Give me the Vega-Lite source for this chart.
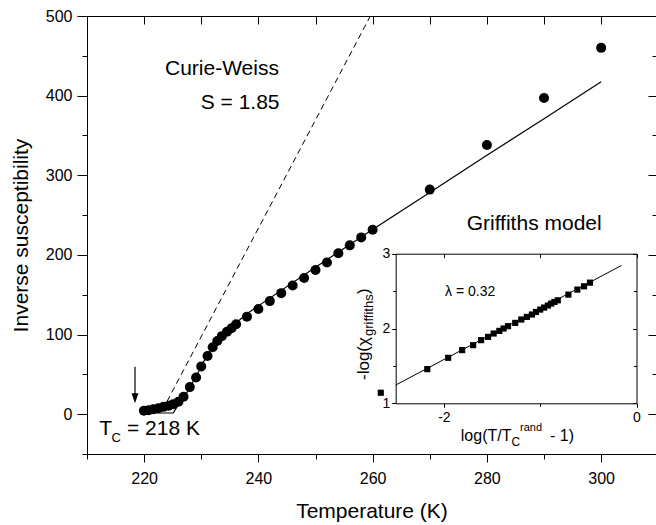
{
  "$schema": "https://vega.github.io/schema/vega-lite/v6.json",
  "width": 569,
  "height": 438,
  "autosize": {"type": "none"},
  "padding": {"left": 87, "top": 16, "right": 0, "bottom": 71},
  "background": "white",
  "config": {
    "view": {"stroke": null},
    "font": "Liberation Sans",
    "text": {"font": "Liberation Sans", "color": "black"},
    "axis": {
      "labelFont": "Liberation Sans", "titleFont": "Liberation Sans",
      "labelColor": "black", "titleColor": "black", "domainColor": "black", "tickColor": "black",
      "grid": false, "titleFontWeight": "normal", "labelFlush": false, "labelOverlap": false,
      "labelBound": false, "domainWidth": 1, "tickWidth": 1
    }
  },
  "datasets": {
    "main": [
      {"T": 219.96, "v": 4.2}, {"T": 220.8, "v": 5.0}, {"T": 221.6, "v": 6.3}, {"T": 222.5, "v": 7.5},
      {"T": 223.4, "v": 9.2}, {"T": 224.3, "v": 10.5}, {"T": 225.1, "v": 12.6}, {"T": 226.0, "v": 15.5},
      {"T": 226.9, "v": 21.8}, {"T": 228.0, "v": 34}, {"T": 229.1, "v": 46}, {"T": 230.0, "v": 60},
      {"T": 231.1, "v": 73}, {"T": 232.0, "v": 84}, {"T": 232.8, "v": 92}, {"T": 233.6, "v": 98},
      {"T": 234.5, "v": 103.5}, {"T": 235.3, "v": 108}, {"T": 236.1, "v": 113}, {"T": 238, "v": 122.5},
      {"T": 240, "v": 132}, {"T": 242, "v": 142}, {"T": 244, "v": 152}, {"T": 246, "v": 161.5},
      {"T": 248, "v": 171}, {"T": 250, "v": 181}, {"T": 252, "v": 190.5}, {"T": 254, "v": 202},
      {"T": 256, "v": 212}, {"T": 258, "v": 222}, {"T": 260, "v": 231.5}, {"T": 270, "v": 282},
      {"T": 280, "v": 338}, {"T": 290, "v": 397}, {"T": 300, "v": 460}
    ],
    "fit": [
      {"T": 221.9, "v": 1.5}, {"T": 225.1, "v": 1.5}, {"T": 225.7, "v": 8.5}, {"T": 226.6, "v": 17},
      {"T": 227.5, "v": 27}, {"T": 228.5, "v": 40}, {"T": 229.5, "v": 53}, {"T": 230.5, "v": 67},
      {"T": 231.5, "v": 79}, {"T": 232.5, "v": 89}, {"T": 233.5, "v": 97.5}, {"T": 234.5, "v": 105},
      {"T": 235.5, "v": 111}, {"T": 236.5, "v": 117}, {"T": 238, "v": 126}, {"T": 240, "v": 136},
      {"T": 250, "v": 184.5}, {"T": 260, "v": 232}, {"T": 270, "v": 278.5}, {"T": 280, "v": 325},
      {"T": 290, "v": 371}, {"T": 300, "v": 417.5}
    ],
    "cw": [{"T": 223.2, "v": 5}, {"T": 259.6, "v": 500}],
    "lab21": [
      {"T": 223.65, "v": 425.9, "t": "Curie-Weiss"},
      {"T": 229.9, "v": 382.8, "t": "S = 1.85"},
      {"T": 276.46, "v": 231.3, "t": "Griffiths model"},
      {"T": 212.15, "v": -26.1, "t": "T"},
      {"T": 217.0, "v": -26.1, "t": "= 218 K"}
    ],
    "inset": [
      {"lx": -2.655, "ly": 1.141}, {"lx": -2.172, "ly": 1.457}, {"lx": -1.955, "ly": 1.608},
      {"lx": -1.81, "ly": 1.711}, {"lx": -1.696, "ly": 1.777}, {"lx": -1.613, "ly": 1.844},
      {"lx": -1.541, "ly": 1.888}, {"lx": -1.483, "ly": 1.933}, {"lx": -1.424, "ly": 1.968},
      {"lx": -1.38, "ly": 2.0}, {"lx": -1.334, "ly": 2.031}, {"lx": -1.259, "ly": 2.075},
      {"lx": -1.196, "ly": 2.12}, {"lx": -1.138, "ly": 2.155}, {"lx": -1.086, "ly": 2.187},
      {"lx": -1.044, "ly": 2.221}, {"lx": -1.0, "ly": 2.253}, {"lx": -0.959, "ly": 2.28},
      {"lx": -0.92, "ly": 2.307}, {"lx": -0.886, "ly": 2.333}, {"lx": -0.852, "ly": 2.355},
      {"lx": -0.817, "ly": 2.377}, {"lx": -0.707, "ly": 2.453}, {"lx": -0.614, "ly": 2.52},
      {"lx": -0.545, "ly": 2.564}, {"lx": -0.483, "ly": 2.613}
    ],
    "insetfit": [{"lx": -2.5, "ly": 1.244}, {"lx": -0.155, "ly": 2.843}]
  },
  "layer": [
    {
      "data": {"name": "main"},
      "mark": {"type": "point", "shape": "circle", "filled": true, "color": "black", "size": 100, "opacity": 1},
      "encoding": {
        "x": {"field": "T", "type": "quantitative", "scale": {"domain": [210, 309.6], "nice": false, "zero": false},
          "axis": {"orient": "bottom", "values": [220, 240, 260, 280, 300], "tickSize": 8,
            "labelFontSize": 16, "labelPadding": 8, "title": "Temperature (K)", "titleFontSize": 21, "titlePadding": 14}},
        "y": {"field": "v", "type": "quantitative", "scale": {"domain": [-50, 500], "nice": false, "zero": false},
          "axis": {"orient": "left", "values": [0, 100, 200, 300, 400, 500], "tickSize": 10,
            "labelFontSize": 16, "labelPadding": 5, "title": "Inverse susceptibility", "titleFontSize": 21, "titlePadding": 14}}
      }
    },
    {
      "data": {"name": "fit"},
      "mark": {"type": "line", "color": "black", "strokeWidth": 1.2},
      "encoding": {
        "x": {"field": "T", "type": "quantitative", "scale": {"domain": [210, 309.6], "nice": false, "zero": false},
          "axis": {"orient": "bottom", "values": [210, 230, 250, 270, 290], "tickSize": 5, "labels": false, "domain": false, "title": null}},
        "y": {"field": "v", "type": "quantitative", "scale": {"domain": [-50, 500], "nice": false, "zero": false},
          "axis": {"orient": "left", "values": [-50, 50, 150, 250, 350, 450], "tickSize": 5, "labels": false, "domain": false, "title": null}}
      }
    },
    {
      "data": {"name": "cw"},
      "mark": {"type": "line", "color": "black", "strokeWidth": 1, "strokeDash": [6, 4]},
      "encoding": {
        "x": {"field": "T", "type": "quantitative", "scale": {"domain": [210, 309.6], "nice": false, "zero": false},
          "axis": {"orient": "bottom", "offset": -438, "values": [210, 220, 230, 240, 250, 260, 270, 280, 290, 300], "tickSize": 8, "labels": false, "domain": true, "title": null}},
        "y": {"field": "v", "type": "quantitative", "scale": {"domain": [-50, 500], "nice": false, "zero": false},
          "axis": {"orient": "left", "offset": -569, "values": [0, 100, 200, 300, 400, 500], "tickSize": 8, "labels": false, "domain": false, "title": null}}
      }
    },
    {
      "data": {"name": "lab21"},
      "mark": {"type": "text", "fontSize": 21, "align": "left", "baseline": "alphabetic", "color": "black"},
      "encoding": {
        "x": {"field": "T", "type": "quantitative", "scale": {"domain": [210, 309.6], "nice": false, "zero": false}, "axis": null},
        "y": {"field": "v", "type": "quantitative", "scale": {"domain": [-50, 500], "nice": false, "zero": false},
          "axis": {"orient": "left", "offset": -569, "values": [-50, 50, 150, 250, 350, 450], "tickSize": 4, "labels": false, "domain": false, "title": null}},
        "text": {"field": "t"}
      }
    },
    {
      "data": {"values": [{"T": 214.3, "v": -34.6, "t": "C"}]},
      "mark": {"type": "text", "fontSize": 13, "align": "left", "baseline": "alphabetic", "color": "black"},
      "encoding": {
        "x": {"field": "T", "type": "quantitative", "scale": {"domain": [210, 309.6], "nice": false, "zero": false}, "axis": null},
        "y": {"field": "v", "type": "quantitative", "scale": {"domain": [-50, 500], "nice": false, "zero": false}, "axis": null},
        "text": {"field": "t"}
      }
    },
    {
      "data": {"values": [{"T": 218.4, "v": 59.6, "v2": 24}]},
      "mark": {"type": "rule", "color": "black", "strokeWidth": 1.2},
      "encoding": {
        "x": {"field": "T", "type": "quantitative", "scale": {"domain": [210, 309.6], "nice": false, "zero": false}, "axis": null},
        "y": {"field": "v", "type": "quantitative", "scale": {"domain": [-50, 500], "nice": false, "zero": false}, "axis": null},
        "y2": {"field": "v2"}
      }
    },
    {
      "data": {"values": [{"T": 218.4, "v": 19.9}]},
      "mark": {"type": "point", "shape": "M-0.7,-1L0.7,-1L0,1Z", "filled": true, "color": "black", "size": 100, "opacity": 1},
      "encoding": {
        "x": {"field": "T", "type": "quantitative", "scale": {"domain": [210, 309.6], "nice": false, "zero": false}, "axis": null},
        "y": {"field": "v", "type": "quantitative", "scale": {"domain": [-50, 500], "nice": false, "zero": false}, "axis": null}
      }
    },
    {
      "data": {"name": "inset"},
      "mark": {"type": "point", "shape": "square", "filled": true, "color": "black", "size": 38, "opacity": 1},
      "encoding": {
        "x": {"field": "lx", "type": "quantitative", "scale": {"domain": [-2.5, 0], "range": [308.7, 549.5], "nice": false, "zero": false},
          "axis": {"orient": "bottom", "offset": -50.7, "values": [-2, 0], "tickSize": 4,
            "labelExpr": "datum.value < 0 ? '-2' : '0'", "labelOverlap": false,
            "labelFontSize": 14, "labelPadding": 3, "title": null}},
        "y": {"field": "ly", "type": "quantitative", "scale": {"domain": [1, 3], "range": [387.3, 237.7], "nice": false, "zero": false},
          "axis": {"orient": "left", "offset": -308.7, "values": [1, 2, 3], "tickSize": 4,
            "labelExpr": "datum.value < 1.5 ? '1' : (datum.value < 2.5 ? '2' : '3')", "labelOverlap": false,
            "labelFontSize": 14, "labelPadding": 2, "title": null}}
      }
    },
    {
      "data": {"name": "insetfit"},
      "mark": {"type": "line", "color": "black", "strokeWidth": 1},
      "encoding": {
        "x": {"field": "lx", "type": "quantitative", "scale": {"domain": [-2.5, 0], "range": [308.7, 549.5], "nice": false, "zero": false},
          "axis": {"orient": "bottom", "offset": -200.3, "values": [-2, -1, 0], "labels": false, "tickSize": 4, "domain": true, "title": null}},
        "y": {"field": "ly", "type": "quantitative", "scale": {"domain": [1, 3], "range": [387.3, 237.7], "nice": false, "zero": false},
          "axis": {"orient": "left", "offset": -549.5, "values": [1, 2, 3], "labels": false, "tickSize": 4, "domain": true, "title": null}}
      }
    },
    {
      "data": {"values": [{"lx": -1.988, "ly": 2.438, "t": "λ = 0.32"}]},
      "mark": {"type": "text", "fontSize": 14, "align": "left", "baseline": "alphabetic", "color": "black"},
      "encoding": {
        "x": {"field": "lx", "type": "quantitative", "scale": {"domain": [-2.5, 0], "range": [308.7, 549.5], "nice": false, "zero": false},
          "axis": {"orient": "bottom", "offset": -50.7, "values": [-1], "labels": false, "tickSize": 3, "domain": false, "title": null}},
        "y": {"field": "ly", "type": "quantitative", "scale": {"domain": [1, 3], "range": [387.3, 237.7], "nice": false, "zero": false},
          "axis": {"orient": "left", "offset": -308.7, "values": [1.5, 2.5], "labels": false, "tickSize": 3, "domain": false, "title": null}},
        "text": {"field": "t"}
      }
    },
    {
      "data": {"values": [{"lx": -1.298, "ly": 0.496, "t": "log(T/T"}]},
      "mark": {"type": "text", "fontSize": 16, "align": "right", "baseline": "alphabetic", "color": "black"},
      "encoding": {
        "x": {"field": "lx", "type": "quantitative", "scale": {"domain": [-2.5, 0], "range": [308.7, 549.5], "nice": false, "zero": false}, "axis": null},
        "y": {"field": "ly", "type": "quantitative", "scale": {"domain": [1, 3], "range": [387.3, 237.7], "nice": false, "zero": false},
          "axis": {"orient": "left", "offset": -549.5, "values": [1.5, 2.5], "labels": false, "tickSize": 3, "domain": false, "title": null}},
        "text": {"field": "t"}
      }
    },
    {
      "data": {"values": [{"lx": -0.898, "ly": 0.496, "t": "- 1)"}]},
      "mark": {"type": "text", "fontSize": 16, "align": "left", "baseline": "alphabetic", "color": "black"},
      "encoding": {
        "x": {"field": "lx", "type": "quantitative", "scale": {"domain": [-2.5, 0], "range": [308.7, 549.5], "nice": false, "zero": false}, "axis": null},
        "y": {"field": "ly", "type": "quantitative", "scale": {"domain": [1, 3], "range": [387.3, 237.7], "nice": false, "zero": false}, "axis": null},
        "text": {"field": "t"}
      }
    },
    {
      "data": {"values": [{"lx": -1.298, "ly": 0.429, "t": "C"}]},
      "mark": {"type": "text", "fontSize": 12, "align": "left", "baseline": "alphabetic", "color": "black"},
      "encoding": {
        "x": {"field": "lx", "type": "quantitative", "scale": {"domain": [-2.5, 0], "range": [308.7, 549.5], "nice": false, "zero": false}, "axis": null},
        "y": {"field": "ly", "type": "quantitative", "scale": {"domain": [1, 3], "range": [387.3, 237.7], "nice": false, "zero": false}, "axis": null},
        "text": {"field": "t"}
      }
    },
    {
      "data": {"values": [{"lx": -1.2095, "ly": 0.636, "t": "rand"}]},
      "mark": {"type": "text", "fontSize": 11, "align": "left", "baseline": "alphabetic", "color": "black"},
      "encoding": {
        "x": {"field": "lx", "type": "quantitative", "scale": {"domain": [-2.5, 0], "range": [308.7, 549.5], "nice": false, "zero": false}, "axis": null},
        "y": {"field": "ly", "type": "quantitative", "scale": {"domain": [1, 3], "range": [387.3, 237.7], "nice": false, "zero": false}, "axis": null},
        "text": {"field": "t"}
      }
    },
    {
      "data": {"values": [{"lx": -2.777, "ly": 1.3115, "t": "-log(χ"}, {"lx": -2.777, "ly": 2.461, "t": ")"}]},
      "mark": {"type": "text", "fontSize": 17, "angle": 270, "align": "left", "baseline": "alphabetic", "color": "black"},
      "encoding": {
        "x": {"field": "lx", "type": "quantitative", "scale": {"domain": [-2.5, 0], "range": [308.7, 549.5], "nice": false, "zero": false}, "axis": null},
        "y": {"field": "ly", "type": "quantitative", "scale": {"domain": [1, 3], "range": [387.3, 237.7], "nice": false, "zero": false}, "axis": null},
        "text": {"field": "t"}
      }
    },
    {
      "data": {"values": [{"lx": -2.7357, "ly": 1.8997, "t": "griffiths"}]},
      "mark": {"type": "text", "fontSize": 13, "angle": 270, "align": "left", "baseline": "alphabetic", "color": "black"},
      "encoding": {
        "x": {"field": "lx", "type": "quantitative", "scale": {"domain": [-2.5, 0], "range": [308.7, 549.5], "nice": false, "zero": false}, "axis": null},
        "y": {"field": "ly", "type": "quantitative", "scale": {"domain": [1, 3], "range": [387.3, 237.7], "nice": false, "zero": false}, "axis": null},
        "text": {"field": "t"}
      }
    }
  ],
  "resolve": {"scale": {"x": "independent", "y": "independent"}, "axis": {"x": "independent", "y": "independent"}}
}
